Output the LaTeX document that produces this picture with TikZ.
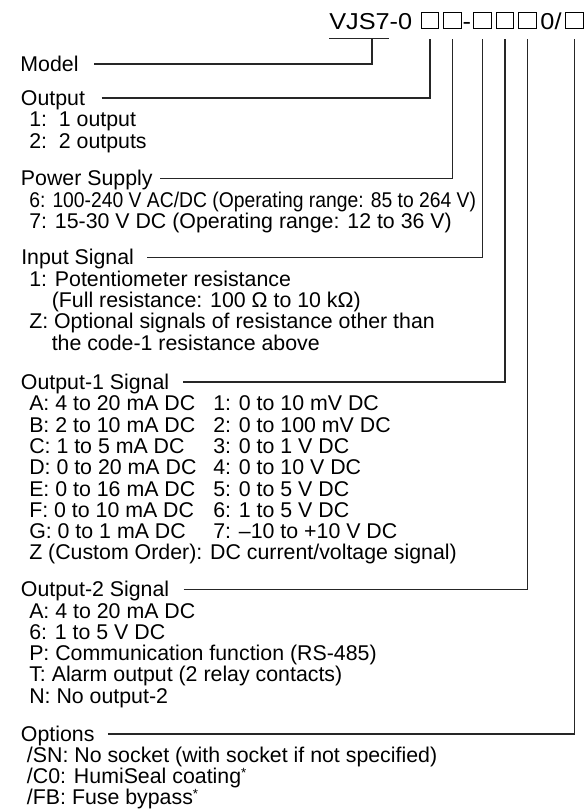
\documentclass[tikz,border=0pt]{standalone}
\usepackage{fontspec}
\setmainfont{Liberation Sans}
\usetikzlibrary{positioning}

\newcommand{\fnmark}{\raisebox{4.3pt}{\fontsize{10pt}{10pt}\selectfont *}}

\begin{document}
\begin{tikzpicture}[x=0.75pt, y=-0.75pt,
	hdr/.style={anchor=base west, inner sep=0pt, text height=11.4pt, text depth=3.3pt,
		font=\fontsize{16pt}{16pt}\selectfont},
	ttl/.style={anchor=base, inner sep=0pt, font=\fontsize{17.25pt}{17.25pt}\selectfont},
	slot/.style={draw, line width=0.6pt, anchor=south, inner sep=0pt,
		minimum width=13.1pt, minimum height=12pt},
	lead/.style={line width=0.95pt, black!85}
]
	\useasboundingbox (0,0) rectangle (583,812);

	% Model code at top
	\node[ttl, anchor=base west] (vjs) at (329,29.3) {\scalebox{1.1}[1]{VJS7-0}};
	\node[slot] (s1) at (430,29.3) {};
	\node[slot] (s2) at (452.3,29.3) {};
	\node[ttl] (dash) at (466.8,29.3) {\scalebox{1.1}[1]{-}};
	\node[slot] (s3) at (482.3,29.3) {};
	\node[slot] (s4) at (505,29.3) {};
	\node[slot] (s5) at (527.3,29.3) {};
	\node[ttl] (zero) at (551,29.3) {\scalebox{1.1}[1]{0/}};
	\node[slot] (s6) at (574.5,29.3) {};

	% Tap points under the code
	\coordinate (ul) at (329.3,38.3);
	\coordinate (mtap) at (372,38.3);
	\coordinate (t1) at ([yshift=-7pt]s1.south);
	\coordinate (t2) at ([yshift=-7pt]s2.south);
	\coordinate (t3) at ([yshift=-7pt]s3.south);
	\coordinate (t4) at ([yshift=-7pt]s4.south);
	\coordinate (t5) at ([yshift=-7pt]s5.south);
	\coordinate (t6) at ([yshift=-7pt]s6.south);
	\draw[lead] (ul) -- ++(60,0);

	% Model
	\node[hdr] (mdl) at (20.2,71.5) {Model};
	\draw[lead] ([xshift=11.5pt,yshift=5.6pt]mdl.base east) -| (mtap);

	% Output
	\node[hdr] (out) at (20.7,105.5) {Output};
	\node[hdr] (out1) at (29,127) {1:\ \ 1 output};
	\node[hdr] (out2) at (29,148.5) {2:\ \ 2 outputs};
	\draw[lead] ([xshift=12.3pt,yshift=5.6pt]out.base east) -| (t1);

	% Power supply
	\node[hdr] (pwr) at (20.7,186) {Power Supply};
	\node[hdr] (pwr6) at (29,207.5)
		{\scalebox{0.905}[1]{6: 100-240 V AC/DC (Operating range: 85 to 264 V)}};
	\node[hdr] (pwr7) at (29,228.5) {7: 15-30 V DC (Operating range: 12 to 36 V)};
	\draw[lead] ([xshift=5.6pt,yshift=5.6pt]pwr.base east) -| (t2);

	% Input signal
	\node[hdr] (inp) at (21,265) {Input Signal};
	\node[hdr] (inp1) at (29,286.3) {1: Potentiometer resistance};
	\node[hdr] (inp1b) at (51.5,307.6) {(Full resistance: 100 Ω to 10 kΩ)};
	\node[hdr] (inpz) at (29,329) {Z: Optional signals of resistance other than};
	\node[hdr] (inpzb) at (51.5,350.3) {the code-1 resistance above};
	\draw[lead] ([xshift=9.6pt,yshift=5.6pt]inp.base east) -| (t3);

	% Output-1 signal
	\node[hdr] (oa) at (20.7,389.5) {Output-1 Signal};
	\node[hdr] (oaA) at (29,410.8) {A: 4 to 20 mA DC};
	\node[hdr] (oaB) at (29,432.1) {B: 2 to 10 mA DC};
	\node[hdr] (oaC) at (29,453.4) {C: 1 to 5 mA DC};
	\node[hdr] (oaD) at (29,474.7) {D: 0 to 20 mA DC};
	\node[hdr] (oaE) at (29,496) {E: 0 to 16 mA DC};
	\node[hdr] (oaF) at (29,517.3) {F: 0 to 10 mA DC};
	\node[hdr] (oaG) at (29,538.6) {G: 0 to 1 mA DC};
	\node[hdr] (oa1) at (213,410.8) {1: 0 to 10 mV DC};
	\node[hdr] (oa2) at (213,432.1) {2: 0 to 100 mV DC};
	\node[hdr] (oa3) at (213,453.4) {3: 0 to 1 V DC};
	\node[hdr] (oa4) at (213,474.7) {4: 0 to 10 V DC};
	\node[hdr] (oa5) at (213,496) {5: 0 to 5 V DC};
	\node[hdr] (oa6) at (213,517.3) {6: 1 to 5 V DC};
	\node[hdr] (oa7) at (213,538.6) {7: –10 to +10 V DC};
	\node[hdr] (oaZ) at (29,559.9) {Z (Custom Order): DC current/voltage signal)};
	\draw[lead] ([xshift=10.2pt,yshift=5.6pt]oa.base east) -| (t4);

	% Output-2 signal
	\node[hdr] (ob) at (20.7,596.7) {Output-2 Signal};
	\node[hdr] (obA) at (29,618) {A: 4 to 20 mA DC};
	\node[hdr] (ob6) at (29,639.3) {6: 1 to 5 V DC};
	\node[hdr] (obP) at (29,660.6) {P: Communication function (RS-485)};
	\node[hdr] (obT) at (29,681.9) {T: Alarm output (2 relay contacts)};
	\node[hdr] (obN) at (29,703.2) {N: No output-2};
	\draw[lead] ([xshift=10.7pt,yshift=5.6pt]ob.base east) -| (t5);

	% Options
	\node[hdr] (opt) at (20.7,741) {Options};
	\node[hdr] (optSN) at (26.7,762.3) {/SN: No socket (with socket if not specified)};
	\node[hdr] (optC0) at (26.7,783.3) {/C0: HumiSeal coating\fnmark};
	\node[hdr] (optFB) at (26.7,804.3) {/FB: Fuse bypass\fnmark};
	\draw[lead] ([xshift=9.9pt,yshift=5.3pt]opt.base east) -| (t6);
\end{tikzpicture}
\end{document}
